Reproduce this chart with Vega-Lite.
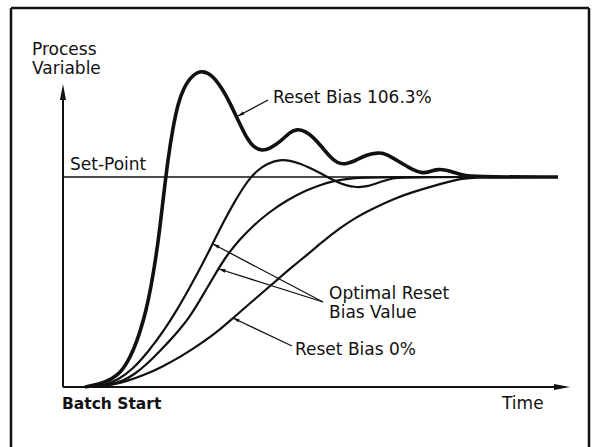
{
  "$schema": "https://vega.github.io/schema/vega-lite/v6.json",
  "width": 592,
  "height": 447,
  "padding": 0,
  "autosize": {"type": "none"},
  "background": "white",
  "config": {"view": {"stroke": null}},
  "datasets": {
    "frame": [
      {"t": -51, "pv": 379, "t2": -51, "pv2": -90},
      {"t": -51, "pv": 379, "t2": 527, "pv2": 379},
      {"t": 527, "pv": 379, "t2": 527, "pv2": -90}
    ],
    "axes": [
      {"t": 1, "pv": 0, "t2": 1, "pv2": 294},
      {"t": 1, "pv": 0, "t2": 500, "pv2": 0}
    ],
    "setpoint": [
      {"t": 1, "pv": 210, "t2": 496, "pv2": 210}
    ],
    "pointers": [
      {"t": 206, "pv": 287, "t2": 176, "pv2": 271},
      {"t": 261, "pv": 85, "t2": 151, "pv2": 143},
      {"t": 261, "pv": 85, "t2": 157, "pv2": 118},
      {"t": 230, "pv": 41, "t2": 171, "pv2": 69}
    ],
    "heads": [
      {"kind": "axis", "t": 1, "pv": 295, "dir": 0},
      {"kind": "axis", "t": 500, "pv": 0, "dir": 90},
      {"kind": "pointer", "t": 178.6, "pv": 272.4, "dir": 242},
      {"kind": "pointer", "t": 153.7, "pv": 141.6, "dir": 298},
      {"kind": "pointer", "t": 159.9, "pv": 117.1, "dir": 288},
      {"kind": "pointer", "t": 173.7, "pv": 67.7, "dir": 295}
    ],
    "curves": [
      {"series": "Reset Bias 106.3%", "t": 23, "pv": 0},
      {"series": "Reset Bias 106.3%", "t": 38, "pv": 3},
      {"series": "Reset Bias 106.3%", "t": 50, "pv": 8},
      {"series": "Reset Bias 106.3%", "t": 58, "pv": 14},
      {"series": "Reset Bias 106.3%", "t": 65, "pv": 24},
      {"series": "Reset Bias 106.3%", "t": 72, "pv": 38},
      {"series": "Reset Bias 106.3%", "t": 78, "pv": 55},
      {"series": "Reset Bias 106.3%", "t": 84, "pv": 76},
      {"series": "Reset Bias 106.3%", "t": 89, "pv": 100},
      {"series": "Reset Bias 106.3%", "t": 94, "pv": 130},
      {"series": "Reset Bias 106.3%", "t": 98, "pv": 160},
      {"series": "Reset Bias 106.3%", "t": 102, "pv": 195},
      {"series": "Reset Bias 106.3%", "t": 106, "pv": 228},
      {"series": "Reset Bias 106.3%", "t": 111, "pv": 260},
      {"series": "Reset Bias 106.3%", "t": 116, "pv": 283},
      {"series": "Reset Bias 106.3%", "t": 121, "pv": 298},
      {"series": "Reset Bias 106.3%", "t": 130, "pv": 312},
      {"series": "Reset Bias 106.3%", "t": 141, "pv": 317},
      {"series": "Reset Bias 106.3%", "t": 151, "pv": 311},
      {"series": "Reset Bias 106.3%", "t": 161, "pv": 297},
      {"series": "Reset Bias 106.3%", "t": 168, "pv": 284},
      {"series": "Reset Bias 106.3%", "t": 175, "pv": 269},
      {"series": "Reset Bias 106.3%", "t": 185, "pv": 248},
      {"series": "Reset Bias 106.3%", "t": 192, "pv": 239.5},
      {"series": "Reset Bias 106.3%", "t": 200, "pv": 236},
      {"series": "Reset Bias 106.3%", "t": 208, "pv": 238.5},
      {"series": "Reset Bias 106.3%", "t": 218, "pv": 245},
      {"series": "Reset Bias 106.3%", "t": 228, "pv": 255},
      {"series": "Reset Bias 106.3%", "t": 235, "pv": 258},
      {"series": "Reset Bias 106.3%", "t": 243, "pv": 256},
      {"series": "Reset Bias 106.3%", "t": 251, "pv": 250},
      {"series": "Reset Bias 106.3%", "t": 260, "pv": 240},
      {"series": "Reset Bias 106.3%", "t": 268, "pv": 230},
      {"series": "Reset Bias 106.3%", "t": 275, "pv": 224},
      {"series": "Reset Bias 106.3%", "t": 283, "pv": 222.5},
      {"series": "Reset Bias 106.3%", "t": 293, "pv": 226},
      {"series": "Reset Bias 106.3%", "t": 305, "pv": 232.5},
      {"series": "Reset Bias 106.3%", "t": 316, "pv": 234.5},
      {"series": "Reset Bias 106.3%", "t": 324, "pv": 233},
      {"series": "Reset Bias 106.3%", "t": 331, "pv": 229},
      {"series": "Reset Bias 106.3%", "t": 341, "pv": 223},
      {"series": "Reset Bias 106.3%", "t": 351, "pv": 217},
      {"series": "Reset Bias 106.3%", "t": 361, "pv": 213.5},
      {"series": "Reset Bias 106.3%", "t": 368, "pv": 215.5},
      {"series": "Reset Bias 106.3%", "t": 376, "pv": 218},
      {"series": "Reset Bias 106.3%", "t": 384, "pv": 217},
      {"series": "Reset Bias 106.3%", "t": 391, "pv": 215},
      {"series": "Reset Bias 106.3%", "t": 400, "pv": 212},
      {"series": "Reset Bias 106.3%", "t": 410, "pv": 210},
      {"series": "Reset Bias 106.3%", "t": 496, "pv": 210},

      {"series": "Optimal A", "t": 28, "pv": 0},
      {"series": "Optimal A", "t": 43, "pv": 2},
      {"series": "Optimal A", "t": 56, "pv": 7},
      {"series": "Optimal A", "t": 71, "pv": 18},
      {"series": "Optimal A", "t": 86, "pv": 35},
      {"series": "Optimal A", "t": 101, "pv": 55},
      {"series": "Optimal A", "t": 115, "pv": 77},
      {"series": "Optimal A", "t": 128, "pv": 100},
      {"series": "Optimal A", "t": 140, "pv": 122},
      {"series": "Optimal A", "t": 151, "pv": 144},
      {"series": "Optimal A", "t": 162, "pv": 166},
      {"series": "Optimal A", "t": 173, "pv": 186},
      {"series": "Optimal A", "t": 181, "pv": 199},
      {"series": "Optimal A", "t": 188, "pv": 209},
      {"series": "Optimal A", "t": 196, "pv": 217},
      {"series": "Optimal A", "t": 205, "pv": 223.5},
      {"series": "Optimal A", "t": 218, "pv": 227.5},
      {"series": "Optimal A", "t": 228, "pv": 226.5},
      {"series": "Optimal A", "t": 238, "pv": 223.5},
      {"series": "Optimal A", "t": 248, "pv": 219},
      {"series": "Optimal A", "t": 258, "pv": 214},
      {"series": "Optimal A", "t": 271, "pv": 207},
      {"series": "Optimal A", "t": 283, "pv": 201.5},
      {"series": "Optimal A", "t": 295, "pv": 199.5},
      {"series": "Optimal A", "t": 306, "pv": 200.5},
      {"series": "Optimal A", "t": 318, "pv": 205},
      {"series": "Optimal A", "t": 331, "pv": 209},
      {"series": "Optimal A", "t": 343, "pv": 210},
      {"series": "Optimal A", "t": 496, "pv": 210},

      {"series": "Optimal B", "t": 30, "pv": 0},
      {"series": "Optimal B", "t": 46, "pv": 2},
      {"series": "Optimal B", "t": 61, "pv": 6},
      {"series": "Optimal B", "t": 73, "pv": 13},
      {"series": "Optimal B", "t": 85, "pv": 23},
      {"series": "Optimal B", "t": 98, "pv": 36},
      {"series": "Optimal B", "t": 113, "pv": 52},
      {"series": "Optimal B", "t": 128, "pv": 70},
      {"series": "Optimal B", "t": 141, "pv": 92},
      {"series": "Optimal B", "t": 155, "pv": 116},
      {"series": "Optimal B", "t": 165, "pv": 132},
      {"series": "Optimal B", "t": 178, "pv": 148},
      {"series": "Optimal B", "t": 191, "pv": 161},
      {"series": "Optimal B", "t": 206, "pv": 174},
      {"series": "Optimal B", "t": 225, "pv": 187},
      {"series": "Optimal B", "t": 245, "pv": 197},
      {"series": "Optimal B", "t": 258, "pv": 202},
      {"series": "Optimal B", "t": 271, "pv": 206},
      {"series": "Optimal B", "t": 291, "pv": 209},
      {"series": "Optimal B", "t": 308, "pv": 210},
      {"series": "Optimal B", "t": 496, "pv": 210},

      {"series": "Reset Bias 0%", "t": 33, "pv": 0},
      {"series": "Reset Bias 0%", "t": 50, "pv": 2},
      {"series": "Reset Bias 0%", "t": 65, "pv": 6},
      {"series": "Reset Bias 0%", "t": 80, "pv": 11},
      {"series": "Reset Bias 0%", "t": 100, "pv": 20},
      {"series": "Reset Bias 0%", "t": 120, "pv": 31},
      {"series": "Reset Bias 0%", "t": 140, "pv": 44},
      {"series": "Reset Bias 0%", "t": 160, "pv": 59},
      {"series": "Reset Bias 0%", "t": 171, "pv": 69},
      {"series": "Reset Bias 0%", "t": 193, "pv": 88},
      {"series": "Reset Bias 0%", "t": 215, "pv": 107},
      {"series": "Reset Bias 0%", "t": 230, "pv": 120},
      {"series": "Reset Bias 0%", "t": 245, "pv": 132},
      {"series": "Reset Bias 0%", "t": 260, "pv": 145},
      {"series": "Reset Bias 0%", "t": 278, "pv": 159},
      {"series": "Reset Bias 0%", "t": 293, "pv": 169},
      {"series": "Reset Bias 0%", "t": 308, "pv": 177},
      {"series": "Reset Bias 0%", "t": 331, "pv": 188},
      {"series": "Reset Bias 0%", "t": 351, "pv": 195},
      {"series": "Reset Bias 0%", "t": 371, "pv": 201},
      {"series": "Reset Bias 0%", "t": 386, "pv": 205},
      {"series": "Reset Bias 0%", "t": 398, "pv": 208},
      {"series": "Reset Bias 0%", "t": 411, "pv": 210},
      {"series": "Reset Bias 0%", "t": 496, "pv": 210}
    ],
    "labels": [
      {"label": "Process\nVariable", "t": -30, "pv": 332},
      {"label": "Set-Point", "t": 8, "pv": 217},
      {"label": "Reset Bias 106.3%", "t": 211, "pv": 284},
      {"label": "Optimal Reset\nBias Value", "t": 267, "pv": 88},
      {"label": "Reset Bias 0%", "t": 233, "pv": 32},
      {"label": "Time", "t": 440, "pv": -22}
    ],
    "boldlabels": [
      {"label": "Batch Start", "t": 0, "pv": -22}
    ]
  },
  "encoding": {
    "x": {"field": "t", "type": "quantitative", "scale": {"domain": [-62, 530], "nice": false, "zero": false}, "axis": null},
    "y": {"field": "pv", "type": "quantitative", "scale": {"domain": [-60, 387], "nice": false, "zero": false}, "axis": null}
  },
  "layer": [
    {
      "data": {"name": "frame"},
      "mark": {"type": "rule", "color": "#111", "strokeWidth": 2.5, "clip": false},
      "encoding": {"x2": {"field": "t2"}, "y2": {"field": "pv2"}}
    },
    {
      "data": {"name": "axes"},
      "mark": {"type": "rule", "color": "#111", "strokeWidth": 2},
      "encoding": {"x2": {"field": "t2"}, "y2": {"field": "pv2"}}
    },
    {
      "data": {"name": "setpoint"},
      "mark": {"type": "rule", "color": "#111", "strokeWidth": 1.3},
      "encoding": {"x2": {"field": "t2"}, "y2": {"field": "pv2"}}
    },
    {
      "data": {"name": "pointers"},
      "mark": {"type": "rule", "color": "#111", "strokeWidth": 1.3},
      "encoding": {"x2": {"field": "t2"}, "y2": {"field": "pv2"}}
    },
    {
      "data": {"name": "curves"},
      "transform": [{"filter": "datum.series !== 'Reset Bias 106.3%'"}],
      "mark": {"type": "line", "color": "#111", "strokeWidth": 2.2, "interpolate": "basis"},
      "encoding": {"detail": {"field": "series", "type": "nominal"}}
    },
    {
      "data": {"name": "curves"},
      "transform": [{"filter": "datum.series === 'Reset Bias 106.3%'"}],
      "mark": {"type": "line", "color": "#111", "strokeWidth": 3.6, "interpolate": "basis"},
      "encoding": {"detail": {"field": "series", "type": "nominal"}}
    },
    {
      "data": {"name": "heads"},
      "transform": [{"filter": "datum.kind === 'axis'"}],
      "mark": {"type": "point", "filled": true, "color": "#111", "opacity": 1, "size": 256, "shape": "M0,-1L0.38,1L-0.38,1Z"},
      "encoding": {"angle": {"field": "dir", "type": "quantitative", "scale": null}}
    },
    {
      "data": {"name": "heads"},
      "transform": [{"filter": "datum.kind === 'pointer'"}],
      "mark": {"type": "point", "filled": true, "color": "#111", "opacity": 1, "size": 49, "shape": "M0,-1L0.5,1L-0.5,1Z"},
      "encoding": {"angle": {"field": "dir", "type": "quantitative", "scale": null}}
    },
    {
      "data": {"name": "labels"},
      "mark": {"type": "text", "align": "left", "baseline": "alphabetic", "font": "DejaVu Sans", "fontSize": 17, "lineBreak": "\n", "lineHeight": 18.5, "color": "#111"},
      "encoding": {"text": {"field": "label", "type": "nominal"}}
    },
    {
      "data": {"name": "boldlabels"},
      "mark": {"type": "text", "align": "left", "baseline": "alphabetic", "font": "DejaVu Sans", "fontSize": 15.5, "fontWeight": "bold", "color": "#111"},
      "encoding": {"text": {"field": "label", "type": "nominal"}}
    }
  ]
}
